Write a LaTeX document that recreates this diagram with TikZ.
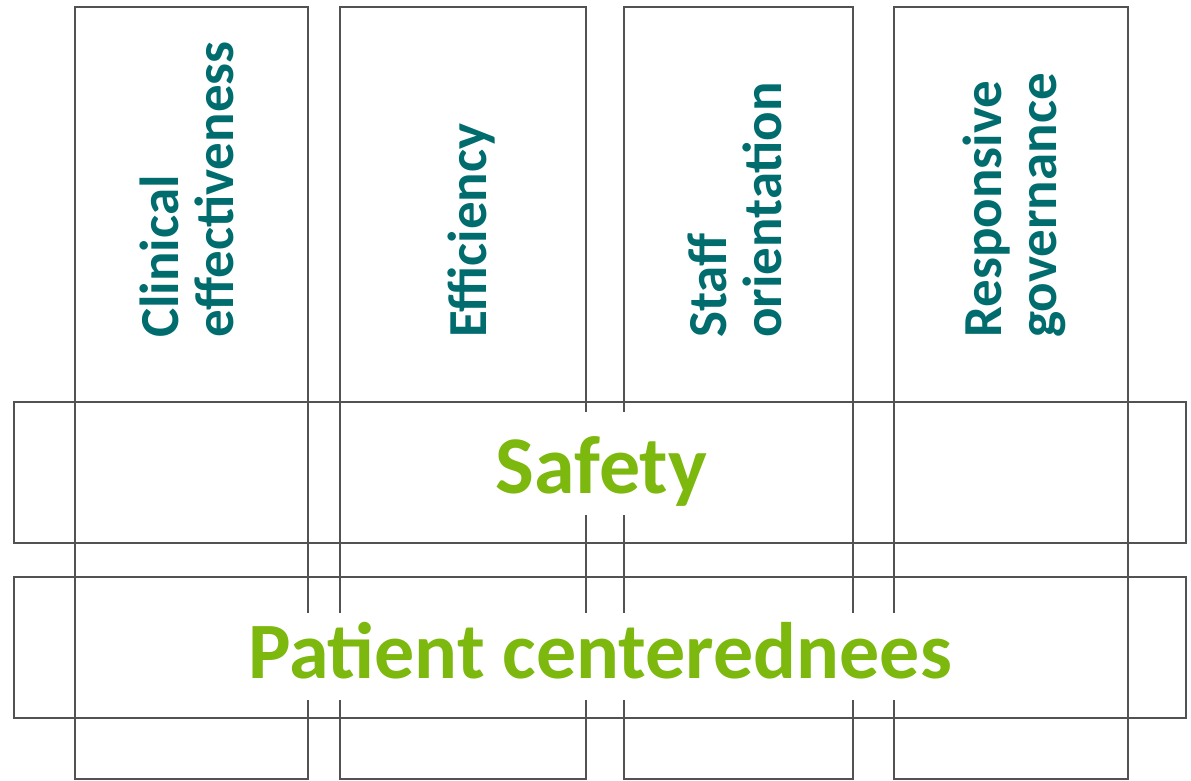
\documentclass[tikz,border=0pt]{standalone}
\usepackage{fontspec}
\setmainfont{Carlito}
\definecolor{pillarteal}{RGB}{0,108,110}
\definecolor{basegreen}{RGB}{124,184,14}

\begin{document}
\begin{tikzpicture}[x=1pt,y=-1pt,
    frame/.style={draw=black!68,line width=1.3pt},
    pillartext/.style={rotate=90,anchor=west,align=left,inner sep=0pt,text=pillarteal,
        font=\fontsize{55}{55}\selectfont\bfseries},
    basetext/.style={anchor=base,fill=white,inner xsep=8pt,inner ysep=0pt,text=basegreen}]
    \useasboundingbox (0,0) rectangle (1191,781);

    % pillars
    \draw[frame] (75,7) rectangle (308,779);
    \draw[frame] (340,7) rectangle (586,779);
    \draw[frame] (624,7) rectangle (853,779);
    \draw[frame] (894,7) rectangle (1128,779);

    % bars across
    \draw[frame] (14,402) rectangle (1186,543);
    \draw[frame] (14,577) rectangle (1186,718);

    \node[pillartext] (clinical) at (187,338) {Clinical\\effectiveness};
    \node[pillartext] (efficiency) at (471,338) {Efficiency};
    \node[pillartext] (staff) at (735,338) {Staff\\orientation};
    \node[pillartext] (responsive) at (1014,338) {Responsive\\governance};

    \node[basetext,text height=81pt,text depth=22pt,font=\fontsize{82}{82}\selectfont\bfseries]
        (safety) at (601.5,493) {Safety};
    \node[basetext,text height=65pt,text depth=22pt,font=\fontsize{80}{80}\selectfont\bfseries]
        (patient) at (600,678) {Patient centerednees};
\end{tikzpicture}
\end{document}
